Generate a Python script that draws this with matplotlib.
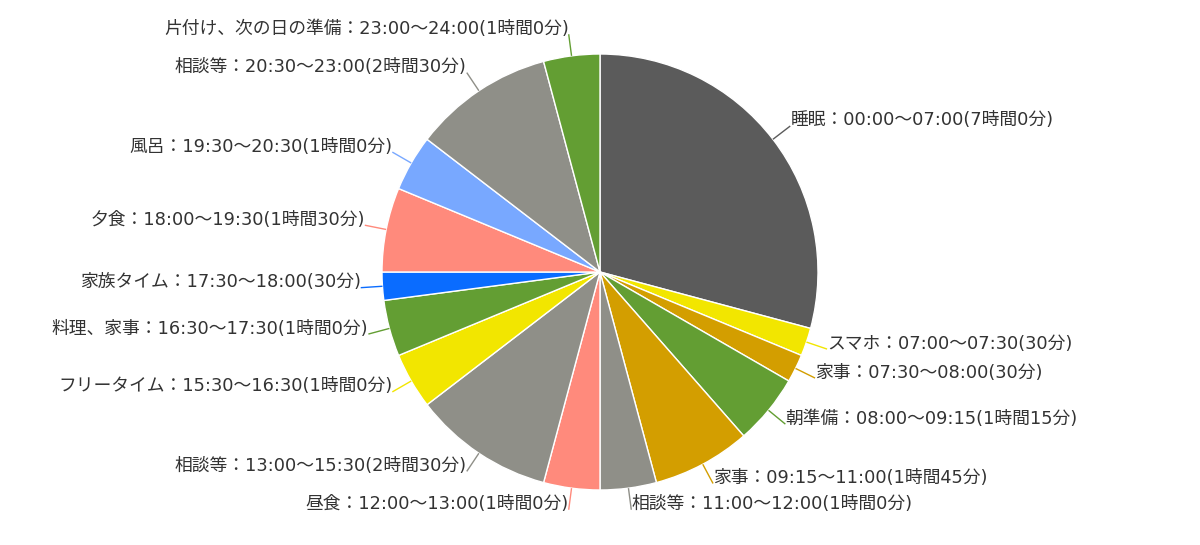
import matplotlib
matplotlib.use("Agg")
import matplotlib.pyplot as plt
import numpy as np

plt.rcParams['font.family'] = ['DejaVu Sans', 'Noto Sans CJK JP']

labels = ["睡眠：00:00～07:00(7時間0分)",
          "スマホ：07:00～07:30(30分)",
          "家事：07:30～08:00(30分)",
          "朝準備：08:00～09:15(1時間15分)",
          "家事：09:15～11:00(1時間45分)",
          "相談等：11:00～12:00(1時間0分)",
          "昼食：12:00～13:00(1時間0分)",
          "相談等：13:00～15:30(2時間30分)",
          "フリータイム：15:30～16:30(1時間0分)",
          "料理、家事：16:30～17:30(1時間0分)",
          "家族タイム：17:30～18:00(30分)",
          "夕食：18:00～19:30(1時間30分)",
          "風呂：19:30～20:30(1時間0分)",
          "相談等：20:30～23:00(2時間30分)",
          "片付け、次の日の準備：23:00～24:00(1時間0分)"]
minutes = [420, 30, 30, 75, 105, 60, 60, 150, 60, 60, 30, 90, 60, 150, 60]
colors = ["#5b5b5b", "#f2e600", "#d39e00", "#639e33", "#d39e00", "#8f8f88",
          "#ff8a7c", "#8f8f88", "#f2e600", "#639e33", "#0a6cff", "#ff8a7c",
          "#78a8ff", "#8f8f88", "#639e33"]

W, H, DPI = 1200, 545, 100
R = 218.0
cx, cy = 600.0, 272.0

fig = plt.figure(figsize=(W / DPI, H / DPI), dpi=DPI)
ax = fig.add_axes([0, 0, 1, 1])
wedges, _ = ax.pie(minutes, colors=colors, startangle=90, counterclock=False,
                   wedgeprops=dict(edgecolor="white", linewidth=1.0))
ax.set_xlim(-cx / R, (W - cx) / R)
ax.set_ylim(-(H - cy) / R, cy / R)
ax.set_aspect('auto')
ax.axis('off')

for w, lab, col in zip(wedges, labels, colors):
    ang = np.deg2rad((w.theta1 + w.theta2) / 2.0)
    c, s = np.cos(ang), np.sin(ang)
    x0, y0 = c * 1.0, s * 1.0
    x1, y1 = c * 1.1, s * 1.1
    ax.plot([x0, x1], [y0, y1], color=col, lw=1.0, solid_capstyle='butt')
    ha = 'left' if c >= 0 else 'right'
    ax.annotate(lab, xy=(x1, y1), xytext=(0, 4.0), textcoords='offset points',
                ha=ha, va='center', fontsize=12.8, color="#333333")

fig.savefig("out.png", dpi=DPI)
